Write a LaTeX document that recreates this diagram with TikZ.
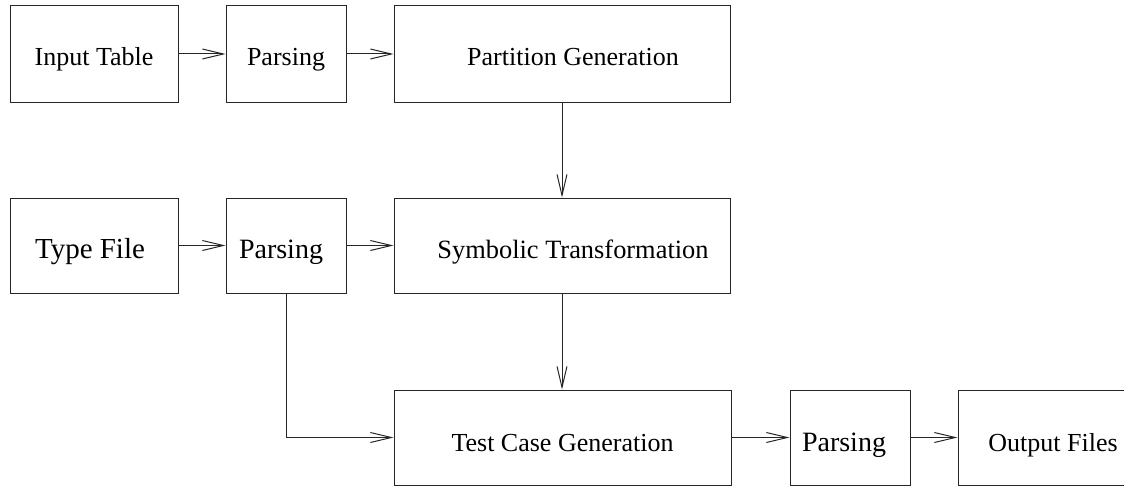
\documentclass[tikz,border=0pt]{standalone}
\usepackage{fontspec}
\setmainfont{Liberation Serif}
\usetikzlibrary{arrows.meta}
\begin{document}
\begin{tikzpicture}[x=1pt,y=-1pt,
  box/.style 2 args={draw=black!85, line width=1pt, rectangle, inner sep=0pt,
    minimum width=#1, minimum height=#2},
  lbl/.style={anchor=base, inner sep=0pt, font=\fontsize{#1}{#1}\selectfont},
  lbl/.default=26pt,
  flow/.style={draw=black!85, line width=1pt,
    -{Straight Barb[length=21pt,width=10pt,line width=1pt]}}
]
\useasboundingbox (0,0) rectangle (1124,487);

% first row: input table
\node[box={168pt}{96pt}] (it) at (94,54) {};
\node[box={120pt}{96pt}] (p1) at (286,54) {};
\node[box={336pt}{96pt}] (pg) at (562,54) {};
\node[lbl] (it-t) at (94,66) {Input Table};
\node[lbl] (p1-t) at (286,66) {Parsing};
\node[lbl] (pg-t) at (573,66) {Partition Generation};

% second row: type file
\node[box={168pt}{95pt}] (tf) at (94,245.5) {};
\node[box={120pt}{95pt}] (p2) at (286,245.5) {};
\node[box={336pt}{95pt}] (st) at (562,245.5) {};
\node[lbl=29pt] (tf-t) at (90,258) {Type File};
\node[lbl=28pt] (p2-t) at (281,258) {Parsing};
\node[lbl=26.4pt] (st-t) at (573,258) {Symbolic Transformation};

% third row: generation and output
\node[box={337pt}{95pt}] (tc) at (562.5,437.5) {};
\node[box={120pt}{95pt}] (p3) at (850,437.5) {};
\node[box={182pt}{95pt}] (of) at (1049,437.5) {};
\node[lbl] (tc-t) at (562.5,451) {Test Case Generation};
\node[lbl=28pt] (p3-t) at (844,451) {Parsing};
\node[lbl] (of-t) at (1053,451) {Output Files};

% connectors
\draw[flow] (it.east) -- (p1.west);
\draw[flow] (p1.east) -- (pg.west);
\draw[flow] (tf.east) -- (p2.west);
\draw[flow] (p2.east) -- (st.west);
\draw[flow] (pg.south) -- (st.north);
\draw[flow] (st.south) -- (tc.north -| st.south);
\draw[flow] (p2.south) |- (tc.west);
\draw[flow] (tc.east) -- (p3.west);
\draw[flow] (p3.east) -- (of.west);
\end{tikzpicture}
\end{document}
